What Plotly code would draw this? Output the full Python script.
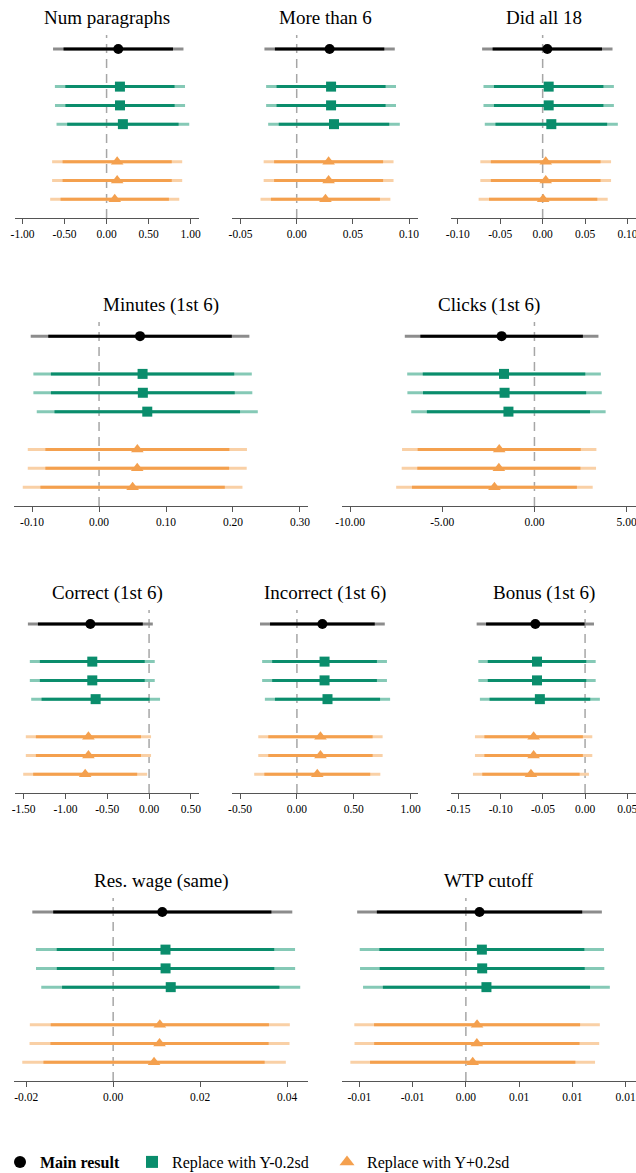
import plotly.graph_objects as go

W, H = 636, 1173
SERIF = "Liberation Serif, Times New Roman, serif"

titles = ["Num paragraphs", "More than 6", "Did all 18",
          "Minutes (1st 6)", "Clicks (1st 6)",
          "Correct (1st 6)", "Incorrect (1st 6)", "Bonus (1st 6)",
          "Res. wage (same)", "WTP cutoff"]

series_names = ["Main result", "Replace with Y-0.2sd", "Replace with Y+0.2sd"]

# Point estimates and standard errors, per outcome.
# Order: main result, three Y-0.2sd replacements, three Y+0.2sd replacements.
coef_num_par = [0.139, 0.159, 0.160, 0.194, 0.126, 0.126, 0.097]
se_num_par = [0.396, 0.395, 0.395, 0.403, 0.395, 0.395, 0.392]

coef_more6 = [0.0293, 0.0306, 0.0306, 0.0332, 0.0284, 0.0284, 0.0256]
se_more6 = [0.0296, 0.0295, 0.0295, 0.0299, 0.0295, 0.0295, 0.0295]

coef_all18 = [0.0055, 0.0071, 0.0071, 0.0102, 0.0036, 0.0036, 0.0006]
se_all18 = [0.0392, 0.0392, 0.0392, 0.0400, 0.0393, 0.0393, 0.0388]

coef_minutes = [0.0612, 0.0650, 0.0654, 0.0720, 0.0572, 0.0570, 0.0501]
se_minutes = [0.0833, 0.0832, 0.0834, 0.0842, 0.0835, 0.0834, 0.0837]

coef_clicks = [-1.78, -1.65, -1.62, -1.41, -1.91, -1.93, -2.17]
se_clicks = [2.68, 2.68, 2.69, 2.69, 2.69, 2.69, 2.72]

coef_correct = [-0.702, -0.679, -0.679, -0.639, -0.725, -0.725, -0.764]
se_correct = [0.381, 0.381, 0.381, 0.393, 0.382, 0.382, 0.378]

coef_incorrect = [0.224, 0.243, 0.243, 0.269, 0.207, 0.207, 0.179]
se_incorrect = [0.280, 0.280, 0.280, 0.281, 0.279, 0.279, 0.283]

coef_bonus = [-0.0590, -0.0570, -0.0570, -0.0536, -0.0610, -0.0610, -0.0642]
se_bonus = [0.0355, 0.0355, 0.0355, 0.0363, 0.0355, 0.0355, 0.0351]

coef_reswage = [0.01130, 0.01203, 0.01205, 0.01324, 0.01073, 0.01066, 0.00940]
se_reswage = [0.01525, 0.01520, 0.01520, 0.01519, 0.01525, 0.01525, 0.01546]

coef_wtp = [0.00128, 0.00150, 0.00153, 0.00193, 0.00105, 0.00103, 0.00064]
se_wtp = [0.00586, 0.00585, 0.00585, 0.00591, 0.00588, 0.00586, 0.00586]

coefs = [coef_num_par, coef_more6, coef_all18, coef_minutes, coef_clicks,
         coef_correct, coef_incorrect, coef_bonus, coef_reswage, coef_wtp]
ses = [se_num_par, se_more6, se_all18, se_minutes, se_clicks,
       se_correct, se_incorrect, se_bonus, se_reswage, se_wtp]

# Axis ticks for each outcome
ticks_num_par = [-1.0, -0.5, 0, 0.5, 1.0]
ticks_more6 = [-0.05, 0, 0.05, 0.10]
ticks_all18 = [-0.10, -0.05, 0, 0.05, 0.10]
ticks_minutes = [-0.1, 0, 0.1, 0.2, 0.3]
ticks_clicks = [-10, -5, 0, 5]
ticks_correct = [-1.5, -1.0, -0.5, 0, 0.5]
ticks_incorrect = [-0.5, 0, 0.5, 1.0]
ticks_bonus = [-0.15, -0.10, -0.05, 0, 0.05]
ticks_reswage = [-0.02, 0, 0.02, 0.04]
ticks_wtp = [-0.01, -0.005, 0, 0.005, 0.01, 0.015]

ticks = [ticks_num_par, ticks_more6, ticks_all18, ticks_minutes, ticks_clicks,
         ticks_correct, ticks_incorrect, ticks_bonus, ticks_reswage, ticks_wtp]

x_ranges = [(-1.09, 1.10), (-0.0576, 0.108), (-0.108, 0.110),
            (-0.127, 0.312), (-10.44, 5.51),
            (-1.603, 0.597), (-0.571, 1.065), (-0.159, 0.0604),
            (-0.0228, 0.0448), (-0.01163, 0.01597)]

# Panel boxes in pixels: (left, right) and (top, bottom)
row_px = [(35, 218), (322, 506), (610, 793), (898, 1081)]
three_cols = [(15, 199), (232, 418), (451, 636)]
two_cols = [(14, 308), (342, 636)]
panel_boxes = ([(c, row_px[0]) for c in three_cols] +
               [(c, row_px[1]) for c in two_cols] +
               [(c, row_px[2]) for c in three_cols] +
               [(c, row_px[3]) for c in two_cols])

Z90, Z95 = 1.645, 1.96

styles = [
    dict(dark="#000000", light="#8c8c8c", symbol="circle", size=10),
    dict(dark="#0a8d6c", light="#85c9b6", symbol="square", size=10),
    dict(dark="#f4a04e", light="#f9d0a6", symbol="triangle-up", size=11),
]


def group_of(i):
    return 0 if i == 0 else (1 if i <= 3 else 2)


fig = go.Figure()
annotations = []
shapes = []

for p, (title, cf, se) in enumerate(zip(titles, coefs, ses)):
    ax = "" if p == 0 else str(p + 1)
    xref, yref = "x" + ax, "y" + ax
    for g, st in enumerate(styles):
        idx = [i for i in range(len(cf)) if group_of(i) == g]
        pos = [i + g for i in idx]
        thin_x, thin_y, thick_x, thick_y = [], [], [], []
        for i, yy in zip(idx, pos):
            thin_x += [cf[i] - Z95 * se[i], cf[i] + Z95 * se[i], None]
            thin_y += [yy, yy, None]
            thick_x += [cf[i] - Z90 * se[i], cf[i] + Z90 * se[i], None]
            thick_y += [yy, yy, None]
        fig.add_trace(go.Scatter(x=thin_x, y=thin_y, mode="lines",
                                 line=dict(color=st["light"], width=3),
                                 xaxis=xref, yaxis=yref, showlegend=False,
                                 hoverinfo="skip"))
        fig.add_trace(go.Scatter(x=thick_x, y=thick_y, mode="lines",
                                 line=dict(color=st["dark"], width=3),
                                 xaxis=xref, yaxis=yref, showlegend=False,
                                 hoverinfo="skip"))
        fig.add_trace(go.Scatter(x=[cf[i] for i in idx], y=pos, mode="markers",
                                 marker=dict(color=st["dark"], symbol=st["symbol"],
                                             size=st["size"], line=dict(width=0)),
                                 xaxis=xref, yaxis=yref, showlegend=False))

    (x0, x1), (y0, y1) = panel_boxes[p]
    xa = dict(domain=[x0 / W, x1 / W], range=list(x_ranges[p]), anchor=yref,
              showline=True, linecolor="#555555", linewidth=1,
              ticks="outside", ticklen=5, tickcolor="#555555", tickwidth=1,
              tickvals=ticks[p], ticktext=[f"{v:.2f}" for v in ticks[p]],
              tickfont=dict(family=SERIF, size=11.5, color="#000000"),
              ticklabeloverflow="allow",
              showgrid=False, zeroline=False, fixedrange=True)
    ya = dict(domain=[1 - y1 / H, 1 - y0 / H], range=[9.0, -0.75], anchor=xref,
              visible=False, showgrid=False, zeroline=False, fixedrange=True)
    fig.layout["xaxis" + ax] = xa
    fig.layout["yaxis" + ax] = ya

    shapes.append(dict(type="line", xref=xref, yref=yref + " domain",
                       x0=0, x1=0, y0=0, y1=1, layer="below",
                       line=dict(color="#a6a6a6", width=1.5, dash="9px,6px")))
    annotations.append(dict(text=title, xref="paper", yref="paper",
                            x=(x0 + x1) / 2 / W, y=1 - (y0 - 17.5) / H,
                            xanchor="center", yanchor="middle", showarrow=False,
                            font=dict(family=SERIF, size=19, color="#000000")))

# Legend: one single-entry legend per series, placed along the bottom
legend_sizes = [12, 12, 13]
legend_left_px = [2, 134, 329]
legend_ids = ["legend", "legend2", "legend3"]
legend_layout = {}
for name, st, sz, lid, lx in zip(series_names, styles, legend_sizes,
                                 legend_ids, legend_left_px):
    label = f"<b>{name}</b>" if name == "Main result" else name
    fig.add_trace(go.Scatter(x=[None], y=[None], mode="markers", name=label,
                             marker=dict(color=st["dark"], symbol=st["symbol"], size=sz),
                             xaxis="x", yaxis="y", showlegend=True, legend=lid))
    legend_layout[lid] = dict(orientation="h", x=lx / W, xanchor="left",
                              indentation=-2, y=1 - 1162 / H, yanchor="middle",
                              font=dict(family=SERIF, size=16, color="#000000"),
                              bgcolor="rgba(0,0,0,0)", itemclick=False,
                              itemdoubleclick=False)

fig.update_layout(
    width=W, height=H, autosize=False,
    margin=dict(l=0, r=0, t=0, b=0, pad=0, autoexpand=False),
    paper_bgcolor="white", plot_bgcolor="white",
    font=dict(family=SERIF, color="#000000"),
    annotations=annotations, shapes=shapes,
    showlegend=True,
    **legend_layout,
)

fig.write_html("out.html")
